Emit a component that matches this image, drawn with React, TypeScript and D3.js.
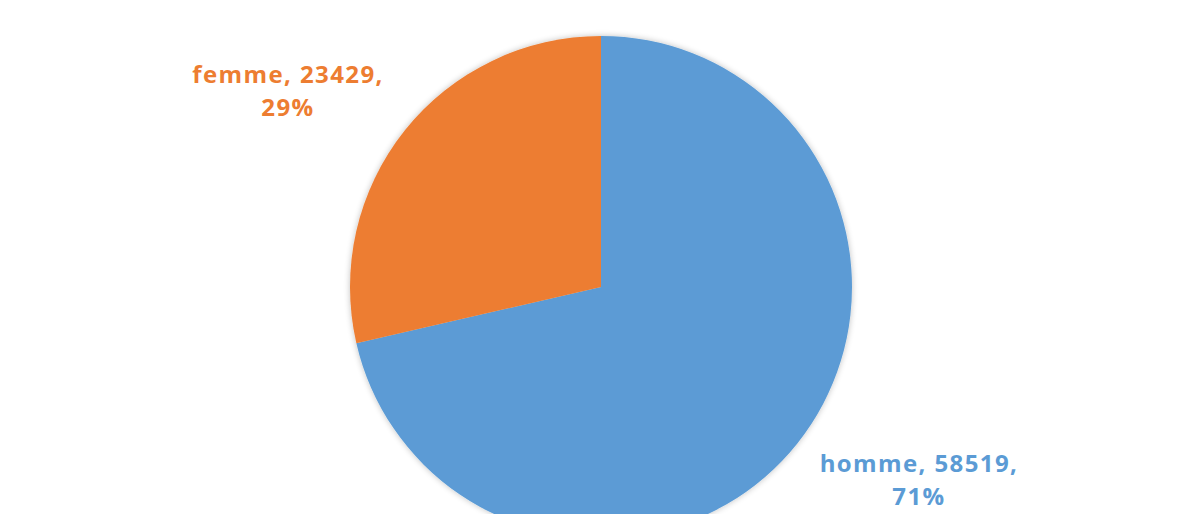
import React from "react";
import * as d3 from "d3";

const categories = ["homme", "femme"];
const values = [58519, 23429];
const percents = ["71%", "29%"];
const colors = ["#5B9BD5", "#ED7D31"];

const W = 1200;
const H = 514;

export default function App() {
  const cx = 601;
  const cy = 287;
  const r = 251;
  const data = categories.map((c, i) => ({ c, v: values[i], p: percents[i], col: colors[i] }));
  const pie = d3.pie<any>().value((d) => d.v).sort(null);
  const arcs = pie(data);
  const arc = d3.arc<any>().innerRadius(0).outerRadius(r);
  const labelPos = [
    { x: 919, y: 472 },
    { x: 288, y: 83 },
  ];
  return (
    <svg width={W} height={H} style={{ position: "absolute", left: 0, top: 0, background: "#fff" }}>
      <defs>
        <filter id="sh" x="-10%" y="-10%" width="120%" height="120%">
          <feGaussianBlur in="SourceAlpha" stdDeviation="3" />
          <feComponentTransfer>
            <feFuncA type="linear" slope="0.25" />
          </feComponentTransfer>
          <feMerge>
            <feMergeNode />
            <feMergeNode in="SourceGraphic" />
          </feMerge>
        </filter>
      </defs>
      <g transform={`translate(${cx},${cy})`} filter="url(#sh)">
        {arcs.map((a, i) => (
          <path key={i} d={arc(a) as string} fill={a.data.col} />
        ))}
      </g>
      {arcs.map((a, i) => (
        <text
          key={i}
          x={labelPos[i].x}
          y={labelPos[i].y}
          textAnchor="middle"
          fill={a.data.col}
          style={{ fontFamily: "'Open Sans', sans-serif", fontWeight: 700, fontSize: 24, letterSpacing: 1.4 }}
        >
          <tspan x={labelPos[i].x}>{`${a.data.c}, ${a.data.v},`}</tspan>
          <tspan x={labelPos[i].x} dy={33}>{a.data.p}</tspan>
        </text>
      ))}
    </svg>
  );
}
